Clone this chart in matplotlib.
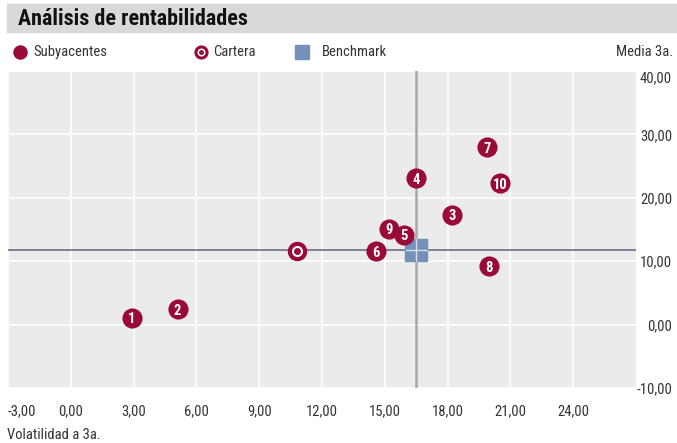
import matplotlib.pyplot as plt
from matplotlib.patches import Rectangle

# 3-year volatility / return of each underlying fund
labels = ["1", "2", "3", "4", "5", "6", "7", "8", "9", "10"]
volatility = [2.9, 5.1, 18.2, 16.5, 15.9, 14.6, 19.9, 20.0, 15.2, 20.5]
returns = [1.1, 2.4, 17.3, 23.1, 14.2, 11.6, 28.0, 9.2, 15.1, 22.3]

# portfolio and benchmark
cartera_vol, cartera_ret = 10.8, 11.6
bench_vol, bench_ret = 16.5, 11.8

xticks = [-3, 0, 3, 6, 9, 12, 15, 18, 21, 24]
yticks = [-10, 0, 10, 20, 30, 40]

RED = "#990a37"
BLUE = "#7492b8"
TXT = "#333333"

plt.rcParams["font.family"] = ["Roboto Condensed", "DejaVu Sans"]

W, H = 677, 443
fig = plt.figure(figsize=(W / 100, H / 100), dpi=100)


def px(x0, y0, x1, y1):
    # pixel box (top-left origin) -> figure fraction rect
    return [x0 / W, 1 - y1 / H, (x1 - x0) / W, (y1 - y0) / H]


# title bar
fig.patches.append(Rectangle((7 / W, 1 - 32 / H), 1 - 7 / W, 28 / H,
                             transform=fig.transFigure, color="#d9d9d9", zorder=0))
fig.text(18 / W, 1 - 19 / H, "Análisis de rentabilidades", fontsize=15.8,
         fontweight="bold", color="#111111", va="center", ha="left")

# legend row
ly = 1 - 52 / H
fig.lines.append(plt.Line2D([19.5 / W], [ly], transform=fig.transFigure, marker="o",
                            ms=9.4, color=RED, ls="none"))
fig.text(33 / W, ly, "Subyacentes", fontsize=10.5, color=TXT, va="center")
fig.lines.append(plt.Line2D([200.5 / W], [ly], transform=fig.transFigure, marker="o",
                            ms=8, mfc="white", mec=RED, mew=2.2, ls="none"))
fig.lines.append(plt.Line2D([200.5 / W], [ly], transform=fig.transFigure, marker="o",
                            ms=2.5, color=RED, ls="none"))
fig.text(213 / W, ly, "Cartera", fontsize=10.5, color=TXT, va="center")
fig.lines.append(plt.Line2D([301.5 / W], [ly], transform=fig.transFigure, marker="s",
                            ms=9.5, color=BLUE, ls="none"))
fig.text(322 / W, ly, "Benchmark", fontsize=10.5, color=TXT, va="center")
fig.text(673 / W, ly, "Media 3a.", fontsize=10.5, color=TXT, va="center", ha="right")

ax = fig.add_axes(px(8, 71, 636, 388))
ax.set_facecolor("#ebebeb")
ax.set_xlim(-3, 27)
ax.set_ylim(-10, 40)
for s in ax.spines.values():
    s.set_visible(False)
ax.set_xticks(xticks)
ax.set_yticks(yticks)
ax.grid(True, color="white", lw=1.2)
ax.set_axisbelow(True)
ax.tick_params(length=0, labelsize=10.5, labelcolor=TXT)
ax.yaxis.tick_right()
ax.tick_params(axis="x", pad=12)
ax.tick_params(axis="y", pad=26)
ax.set_xticklabels([f"{v:.2f}".replace(".", ",") for v in xticks])
ax.set_yticklabels([f"{v:.2f}".replace(".", ",") for v in yticks])
for t in ax.get_yticklabels():
    t.set_ha("right")
ax.get_xticklabels()[0].set_ha("left")
ax.get_yticklabels()[-1].set_va("top")

# benchmark cross-hair
ax.axhline(bench_ret, color="#6e6e86", lw=1.2, zorder=2)
ax.axvline(bench_vol, color="#a6a6ae", lw=1.8, zorder=2)
ax.plot(bench_vol, bench_ret, marker="s", ms=16, color=BLUE, ls="none", zorder=3)
ax.axhline(bench_ret, xmin=(bench_vol + 3 - 0.5) / 30, xmax=(bench_vol + 3 + 0.5) / 30,
           color="#d8dfea", lw=1, zorder=4)
ax.axvline(bench_vol, ymin=(bench_ret + 10 - 1.7) / 50, ymax=(bench_ret + 10 + 1.7) / 50,
           color="#d8dfea", lw=1, zorder=4)

# portfolio
ax.plot(cartera_vol, cartera_ret, marker="o", ms=11, mfc="white", mec=RED,
        mew=3, ls="none", zorder=5)
ax.plot(cartera_vol, cartera_ret, marker="o", ms=4, color=RED, ls="none", zorder=6)

# underlying funds
ax.plot(volatility, returns, marker="o", ms=13.5, color=RED, ls="none", zorder=5)
for lab, x, y in zip(labels, volatility, returns):
    ax.text(x, y, lab, color="white", fontsize=10.5, fontweight="bold",
            ha="center", va="center_baseline", zorder=6)

fig.text(7 / W, 1 - 435 / H, "Volatilidad a 3a.", fontsize=10.5, color=TXT,
         va="center", ha="left")

fig.savefig("out.png", dpi=100)
